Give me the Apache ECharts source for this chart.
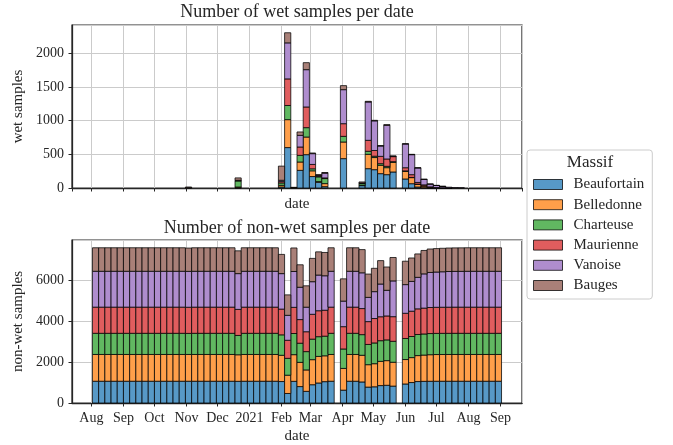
<!DOCTYPE html>
<html><head><meta charset="utf-8">
<script src="https://cdn.jsdelivr.net/npm/echarts@6/dist/echarts.min.js"></script>
<style>html,body{margin:0;padding:0;background:#fff}#c{width:673px;height:445px}</style>
</head><body><div id="c"></div>
<script>
// ---- DATA ----
const binStarts = [
'2020-08-02','2020-08-08','2020-08-14','2020-08-20','2020-08-26',
'2020-09-01','2020-09-07','2020-09-13','2020-09-19','2020-09-25',
'2020-10-01','2020-10-07','2020-10-13','2020-10-19','2020-10-25',
'2020-10-31','2020-11-06','2020-11-12','2020-11-18','2020-11-24',
'2020-11-30','2020-12-06','2020-12-12','2020-12-18','2020-12-24',
'2020-12-30','2021-01-05','2021-01-11','2021-01-17','2021-01-23',
'2021-01-29','2021-02-04','2021-02-10','2021-02-16','2021-02-22',
'2021-02-28','2021-03-06','2021-03-12','2021-03-18','2021-03-24',
'2021-03-30','2021-04-05','2021-04-11','2021-04-17','2021-04-23',
'2021-04-29','2021-05-05','2021-05-11','2021-05-17','2021-05-23',
'2021-05-29','2021-06-04','2021-06-10','2021-06-16','2021-06-22',
'2021-06-28','2021-07-04','2021-07-10','2021-07-16','2021-07-22',
'2021-07-28','2021-08-03','2021-08-09','2021-08-15','2021-08-21',
'2021-08-27'];
const binDays = 6;
const massifs = ['Beaufortain','Belledonne','Charteuse','Maurienne','Vanoise','Bauges'];
const monthNames = ['Jan','Feb','Mar','Apr','May','Jun','Jul','Aug','Sep','Oct','Nov','Dec'];

const wetBeaufortain = [
0,0,0,0,0,0,0,0,0,0,
0,0,0,0,0,0,0,0,0,0,
0,0,0,5,0,0,0,0,0,0,
15,600,5,262,495,170,85,20,0,null,
436,0,0,35,287,272,213,198,238,null,
134,64,15,5,2,0,0,0,0,0,
0,0,0,0,0,0];
const wetBelledonne = [
0,0,0,0,0,0,0,0,0,0,
0,0,0,0,0,0,0,0,0,0,
0,0,0,10,0,0,0,0,0,0,
25,415,5,124,262,85,10,45,0,null,
247,0,0,5,213,180,124,104,143,null,
115,90,40,25,10,4,2,1,0,0,
0,0,0,0,0,0];
const wetCharteuse = [
0,0,0,0,0,0,0,0,0,0,
0,0,0,0,0,5,0,0,0,0,
0,0,0,90,0,0,0,0,0,0,
35,210,0,99,139,30,70,75,0,null,
84,0,0,25,45,20,24,20,10,null,
5,3,3,2,0,0,0,0,0,0,
0,0,0,0,0,0];
const wetMaurienne = [
0,0,0,0,0,0,0,0,0,0,
0,0,0,0,0,0,0,0,0,0,
0,0,0,5,0,0,0,0,0,0,
20,395,0,124,307,65,10,10,0,null,
188,0,0,5,163,85,109,109,75,null,
47,41,25,15,5,3,2,1,0,0,
0,0,0,0,0,0];
const wetVanoise = [
0,0,0,0,0,0,0,0,0,0,
0,0,0,0,0,0,0,0,0,0,
0,0,0,5,0,0,0,0,0,0,
20,535,0,173,554,160,10,70,0,null,
505,0,0,5,569,440,154,500,5,null,
352,297,214,80,40,30,20,10,6,4,
0,0,0,0,0,0];
const wetBauges = [
0,0,0,0,0,0,0,0,0,0,
0,0,0,0,0,10,0,0,0,0,
0,0,0,35,0,0,0,0,0,0,
210,150,0,50,104,10,15,10,0,null,
60,0,0,15,10,8,5,10,5,null,
5,5,5,5,3,3,1,0,0,0,
0,0,0,0,0,0];

const nwBeaufortain = [
1065,1065,1065,1065,1065,1065,1065,1065,1065,1065,
1065,1065,1065,1065,1065,1065,1065,1065,1065,1065,
1065,1065,1065,1060,1065,1065,1065,1065,1065,1065,
1050,465,1060,803,570,895,980,1045,1065,null,
629,1065,1065,1030,778,793,852,867,827,null,
931,1001,1050,1060,1063,1065,1065,1065,1065,1065,
1065,1065,1065,1065,1065,1065];
const nwBelledonne = [
1310,1310,1310,1310,1310,1310,1310,1310,1310,1310,
1310,1310,1310,1310,1310,1310,1310,1310,1310,1310,
1310,1310,1310,1300,1310,1310,1310,1310,1310,1310,
1285,895,1305,1186,1048,1225,1300,1265,1310,null,
1063,1310,1310,1305,1097,1130,1186,1206,1167,null,
1195,1220,1270,1285,1300,1306,1308,1309,1310,1310,
1310,1310,1310,1310,1310,1310];
const nwCharteuse = [
1035,1035,1035,1035,1035,1035,1035,1035,1035,1035,
1035,1035,1035,1035,1035,1030,1035,1035,1035,1035,
1035,1035,1035,945,1035,1035,1035,1035,1035,1035,
1000,825,1035,936,896,1005,965,960,1035,null,
951,1035,1035,1010,990,1015,1011,1015,1025,null,
1030,1032,1032,1033,1035,1035,1035,1035,1035,1035,
1035,1035,1035,1035,1035,1035];
const nwMaurienne = [
1280,1280,1280,1280,1280,1280,1280,1280,1280,1280,
1280,1280,1280,1280,1280,1280,1280,1280,1280,1280,
1280,1280,1280,1275,1280,1280,1280,1280,1280,1280,
1260,885,1280,1156,973,1215,1270,1270,1280,null,
1092,1280,1280,1275,1117,1195,1171,1171,1205,null,
1233,1239,1255,1265,1275,1277,1278,1279,1280,1280,
1280,1280,1280,1280,1280,1280];
const nwVanoise = [
1755,1755,1755,1755,1755,1755,1755,1755,1755,1755,
1755,1755,1755,1755,1755,1755,1755,1755,1755,1755,
1755,1755,1755,1750,1755,1755,1755,1755,1755,1755,
1735,1220,1755,1582,1201,1595,1745,1685,1755,null,
1250,1755,1755,1750,1186,1315,1601,1255,1750,null,
1403,1458,1541,1675,1715,1725,1735,1745,1749,1751,
1755,1755,1755,1755,1755,1755];
const nwBauges = [
1150,1150,1150,1150,1150,1150,1150,1150,1150,1150,
1150,1150,1150,1150,1150,1140,1150,1150,1150,1150,
1150,1150,1150,1115,1150,1150,1150,1150,1150,1150,
940,1000,1150,1100,1046,1140,1135,1140,1150,null,
1090,1150,1150,1135,1140,1142,1145,1140,1145,null,
1145,1145,1145,1145,1147,1147,1149,1150,1150,1150,
1150,1150,1150,1150,1150,1150];

const wetValues = [wetBeaufortain, wetBelledonne, wetCharteuse, wetMaurienne, wetVanoise, wetBauges];
const nonWetValues = [nwBeaufortain, nwBelledonne, nwCharteuse, nwMaurienne, nwVanoise, nwBauges];

// ---- STYLE ----
const colors = ['#5799c7','#ff9f4a','#61b861','#e05d5e','#af8dce','#a98078'];
const FONT = "'Liberation Serif', 'DejaVu Serif', serif";
const TXT = '#262626';
const DAY = 86400000;

function parseDate(s) { const p = s.split('-').map(Number); return new Date(p[0], p[1]-1, p[2]).getTime(); }
const starts = binStarts.map(parseDate);
const dataMin = starts[0], dataMax = starts[starts.length-1] + binDays*DAY;
const xMin = dataMin - 0.05*(dataMax-dataMin), xMax = dataMax + 0.05*(dataMax-dataMin);

function stackTotals(list) {
  return starts.map((_, i) => list.reduce((a, arr) => a + (arr[i] || 0), 0));
}
const yMaxTop = Math.max(...stackTotals(wetValues)) * 1.05;
const yMaxBot = Math.max(...stackTotals(nonWetValues)) * 1.05;

function makeSeries(list, gi) {
  return massifs.map((name, s) => {
    const data = [];
    starts.forEach((t0, i) => {
      const v = list[s][i];
      if (v === null || v === 0) return;
      let base = 0;
      for (let k = 0; k < s; k++) base += list[k][i] || 0;
      data.push([t0, t0 + binDays*DAY, base, base + v]);
    });
    return {
      type: 'custom', name, xAxisIndex: gi, yAxisIndex: gi,
      itemStyle: { color: colors[s], borderColor: 'rgba(0,0,0,0.75)', borderWidth: 1 },
      encode: { x: [0, 1], y: [2, 3] },
      data,
      renderItem: (params, api) => {
        const p0 = api.coord([api.value(0), api.value(3)]);
        const p1 = api.coord([api.value(1), api.value(2)]);
        return { type: 'rect',
          shape: { x: p0[0], y: p0[1], width: p1[0]-p0[0], height: p1[1]-p0[1] },
          style: { fill: colors[s], stroke: 'rgba(0,0,0,0.75)', lineWidth: 1 } };
      }
    };
  });
}

function xAxisCfg(gi, showLabels) {
  return {
    type: 'time', gridIndex: gi, min: xMin, max: xMax,
    splitNumber: 14, minInterval: 28*DAY, maxInterval: 31*DAY,
    name: 'date', nameLocation: 'middle', nameGap: showLabels ? 26 : 9,
    nameTextStyle: { fontFamily: FONT, fontSize: 15, color: TXT },
    axisLine: { show: true, lineStyle: { color: TXT, width: 1.25 } },
    axisTick: { show: true, inside: false, length: 3.5, lineStyle: { color: TXT, width: 1 } },
    axisLabel: { show: showLabels, margin: 8, fontFamily: FONT, fontSize: 14, color: TXT,
      showMinLabel: false, showMaxLabel: false,
      formatter: v => { const d = new Date(v); return d.getMonth() === 0 ? String(d.getFullYear()) : monthNames[d.getMonth()]; } },
    splitLine: { show: true, lineStyle: { color: '#cbcbcb', width: 1 } }
  };
}
function yAxisCfg(gi, name, max, interval) {
  return {
    type: 'value', gridIndex: gi, min: 0, max, interval,
    name, nameLocation: 'middle', nameGap: 43, nameRotate: 90,
    nameTextStyle: { fontFamily: FONT, fontSize: 15, color: TXT },
    axisLine: { show: true, lineStyle: { color: TXT, width: 1.25 } },
    axisTick: { show: true, inside: false, length: 3.5, lineStyle: { color: TXT, width: 1 } },
    axisLabel: { margin: 8, fontFamily: FONT, fontSize: 14, color: TXT, showMaxLabel: false, formatter: v => String(v) },
    splitLine: { show: true, lineStyle: { color: '#cbcbcb', width: 1 } }
  };
}

const chart = echarts.init(document.getElementById('c'), null, { renderer: 'canvas' });
chart.setOption({
  animation: false,
  backgroundColor: '#fff',
  title: [
    { text: 'Number of wet samples per date', left: 297, top: 3, textAlign: 'center', padding: 0,
      textStyle: { fontFamily: FONT, fontSize: 18, fontWeight: 'normal', color: TXT } },
    { text: 'Number of non-wet samples per date', left: 297, top: 219, textAlign: 'center', padding: 0,
      textStyle: { fontFamily: FONT, fontSize: 18, fontWeight: 'normal', color: TXT } },
    { text: 'Massif', left: 590, top: 154, textAlign: 'center', padding: 0, z: 20,
      textStyle: { fontFamily: FONT, fontSize: 17, fontWeight: 'normal', color: TXT } }
  ],
  legend: {
    orient: 'vertical', left: 527, top: 150, padding: [27, 8, 6, 6],
    itemWidth: 29, itemHeight: 10, itemGap: 5.2, icon: 'rect',
    data: massifs,
    backgroundColor: 'rgba(255,255,255,0.8)', borderColor: '#cccccc', borderWidth: 1, borderRadius: 3,
    itemStyle: { borderColor: 'rgba(0,0,0,0.75)', borderWidth: 1 },
    textStyle: { fontFamily: FONT, fontSize: 15, color: TXT, padding: [0, 0, 0, 6] },
    z: 10
  },
  grid: [
    { left: 72, right: 151, top: 25, height: 163, show: true, borderColor: TXT, borderWidth: 1.25, backgroundColor: 'transparent' },
    { left: 72, right: 151, top: 240, height: 163, show: true, borderColor: TXT, borderWidth: 1.25, backgroundColor: 'transparent' }
  ],
  xAxis: [xAxisCfg(0, false), xAxisCfg(1, true)],
  yAxis: [yAxisCfg(0, 'wet samples', yMaxTop, 500), yAxisCfg(1, 'non-wet samples', yMaxBot, 2000)],
  series: [...makeSeries(wetValues, 0), ...makeSeries(nonWetValues, 1)]
});
</script></body></html>
